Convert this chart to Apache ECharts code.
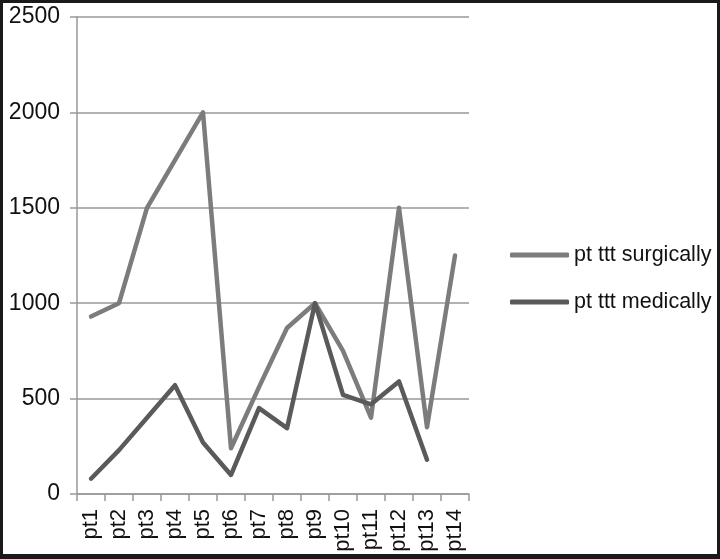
<!DOCTYPE html>
<html>
<head>
<meta charset="utf-8">
<script src="https://cdn.jsdelivr.net/npm/echarts@6/dist/echarts.min.js"></script>
<style>
html,body{margin:0;padding:0;background:#fff;}
#chart{width:720px;height:559px;}
</style>
</head>
<body>
<div id="chart"></div>
<script>
var categories = ['pt1','pt2','pt3','pt4','pt5','pt6','pt7','pt8','pt9','pt10','pt11','pt12','pt13','pt14'];
var surgically = [930, 1000, 1500, 1750, 2000, 240, 560, 870, 1000, 750, 400, 1500, 350, 1250];
var medically = [80, 230, 400, 570, 270, 100, 450, 345, 1000, 520, 470, 590, 180, null];
var seriesNames = ['pt ttt surgically', 'pt ttt medically'];

var chart = echarts.init(document.getElementById('chart'), null, {renderer: 'canvas'});
var font = '"Liberation Sans", Arial, sans-serif';
var option = {
  animation: false,
  backgroundColor: '#ffffff',
  textStyle: {fontFamily: font},
  grid: {left: 77, right: 251, top: 17, bottom: 65, containLabel: false},
  legend: {
    orient: 'vertical',
    left: 505,
    top: 239,
    icon: 'roundRect',
    itemWidth: 59,
    itemHeight: 5,
    itemGap: 25,
    textStyle: {fontFamily: font, fontSize: 21.5, color: '#111'},
    data: seriesNames
  },
  xAxis: {
    type: 'category',
    data: categories,
    boundaryGap: true,
    axisLine: {lineStyle: {color: '#999', width: 1.5}},
    axisTick: {show: true, length: 7, alignWithLabel: false, lineStyle: {color: '#999', width: 1.5}},
    axisLabel: {rotate: 90, fontSize: 22, color: '#111', margin: 15, fontFamily: font, interval: 0}
  },
  yAxis: {
    type: 'value',
    min: 0,
    max: 2500,
    interval: 500,
    axisLine: {show: true, lineStyle: {color: '#999', width: 1.5}},
    axisTick: {show: true, length: 7, lineStyle: {color: '#999', width: 1.5}},
    axisLabel: {fontSize: 23, color: '#111', margin: 17, fontFamily: font, formatter: function (v) { return String(v); }},
    splitLine: {lineStyle: {color: '#999', width: 1.5}}
  },
  series: [
    {
      name: seriesNames[0],
      type: 'line',
      data: surgically,
      showSymbol: false,
      symbol: 'none',
      color: '#7c7c7c',
      lineStyle: {color: '#7c7c7c', width: 4.5, cap: 'round', join: 'round'}
    },
    {
      name: seriesNames[1],
      type: 'line',
      data: medically,
      showSymbol: false,
      symbol: 'none',
      color: '#5a5a5a',
      lineStyle: {color: '#5a5a5a', width: 4.5, cap: 'round', join: 'round'}
    }
  ],
  graphic: [
    {type: 'rect', left: 0, top: 0, shape: {width: 720, height: 3}, style: {fill: '#1a1a1a'}, z: 100},
    {type: 'rect', left: 0, top: 0, shape: {width: 3, height: 559}, style: {fill: '#1a1a1a'}, z: 100},
    {type: 'rect', left: 717, top: 0, shape: {width: 3, height: 559}, style: {fill: '#1a1a1a'}, z: 100},
    {type: 'rect', left: 0, top: 554, shape: {width: 720, height: 5}, style: {fill: '#1a1a1a'}, z: 100}
  ]
};
chart.setOption(option);
</script>
</body>
</html>
